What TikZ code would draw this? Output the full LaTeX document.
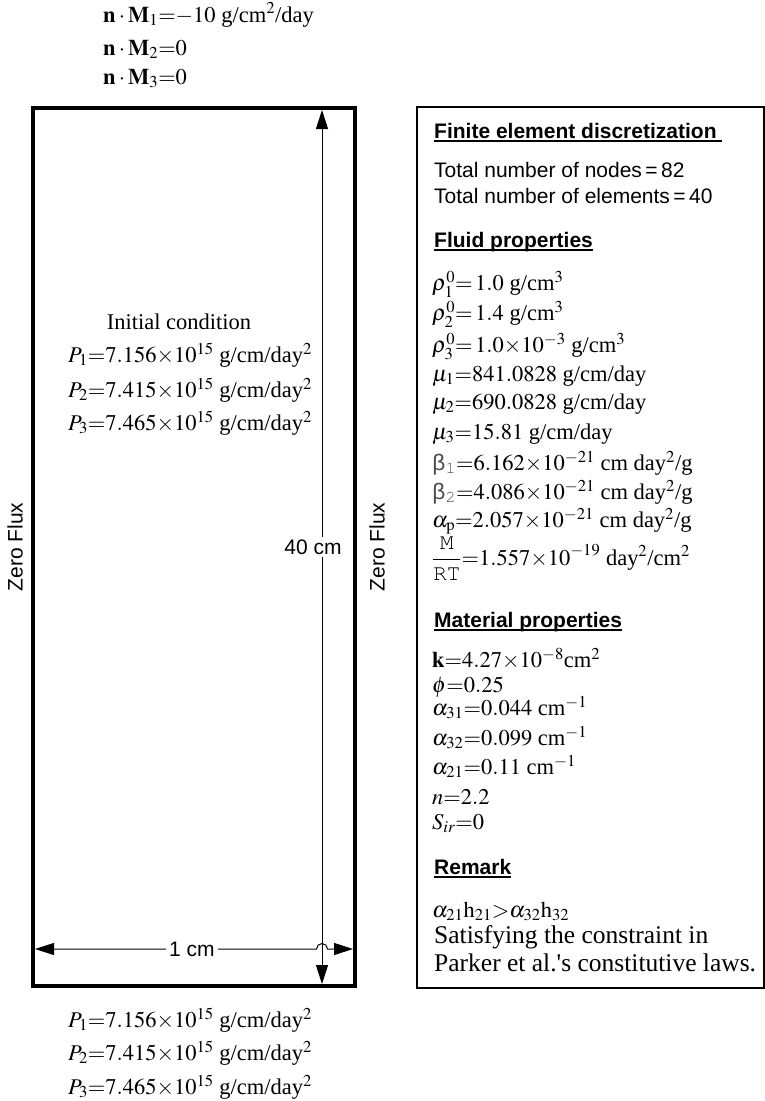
\documentclass[tikz,border=0pt]{standalone}
\usepackage{mathptmx}
\usepackage{fontspec}
\setmainfont{Liberation Serif}
\setsansfont{Liberation Sans}
\setmonofont{Liberation Mono}
\usetikzlibrary{arrows.meta}

\newcommand{\headrule}[1]{\setbox0\hbox{#1}\rlap{\rule[-4pt]{\wd0}{1.6pt}}\box0}
\newcommand{\courier}[1]{{\fontencoding{OT1}\fontfamily{pcr}\selectfont #1}}
\newcommand{\monobeta}[1]{{\color{black!70}\ttfamily β\textsubscript{\courier{#1}}}}

\begin{document}
\begin{tikzpicture}[x=1pt, y=-1pt,
    serif/.style={inner sep=0pt, anchor=base west, font=\fontsize{22.5}{27}\selectfont},
    remark/.style={serif, font=\fontsize{25.5}{28}\selectfont},
    sans/.style={inner sep=0pt, anchor=base west, font=\sffamily\fontsize{21}{25}\selectfont},
    heading/.style={sans, font=\sffamily\bfseries\fontsize{21}{25}\selectfont},
    dimline/.style={line width=1pt, >={Triangle[length=19pt, width=12pt]}, <->},
    dimlabel/.style={sans, anchor=center, fill=white, inner sep=3pt},
    fluxlabel/.style={sans, anchor=center, rotate=90},
    column/.style={line width=3.5pt},
    panel/.style={line width=1.3pt}]
    \useasboundingbox (0,0) rectangle (765,1101);

    \draw[column] (33,108) rectangle (355,986);
    \draw[panel] (417,107) rectangle (764,988);

    \coordinate (vtop) at (322,110);
    \coordinate (vbot) at (322,984);
    \coordinate (hleft) at (35,949);
    \coordinate (hjump) at (316.5,949);
    \coordinate (hright) at (353,949);
    \draw[dimline] (vtop) -- (vbot);
    \draw[dimline] (hleft) -- (hjump) arc[start angle=180, end angle=360, radius=5.5] -- (hright);
    \node[dimlabel] (height) at (313,547) {40 cm};
    \node[dimlabel] (width) at (192,949) {1 cm};
    \node[fluxlabel] (fluxleft) at (15,547) {Zero Flux};
    \node[fluxlabel] (fluxright) at (377,547) {Zero Flux};

    \foreach \y/\txt [count=\i] in {22/{$\mathbf{n}\cdot\mathbf{M}_1{=}{-}10$ g/cm$^2$/day},
        55/{$\mathbf{n}\cdot\mathbf{M}_2{=}0$}, 84/{$\mathbf{n}\cdot\mathbf{M}_3{=}0$}}
        \node[serif] (nm\i) at (103,\y) {\txt};

    \node[serif, anchor=base] (init) at (179,329.5) {Initial condition};
    \foreach \y/\v [count=\i] in {362.5/7.156, 397.5/7.415, 430.5/7.465}
        \node[serif] (ic\i) at (68,\y) {$P_{\i}{=}\v{\times}10^{15}$ g/cm/day$^2$};
    \foreach \y/\v [count=\i] in {1027.5/7.156, 1060.5/7.415, 1094.5/7.465}
        \node[serif] (pb\i) at (68,\y) {$P_{\i}{=}\v{\times}10^{15}$ g/cm/day$^2$};

    \node[heading] (fehead) at (434,138) {\headrule{Finite element discretization\ }};
    \node[sans] (nnodes) at (434,177.5) {Total number of nodes\,=\,82};
    \node[sans] (nelems) at (434,203.5) {Total number of elements\,=\,40};

    \node[heading] (fluidhead) at (434,247) {\headrule{Fluid properties}};
    \foreach \y/\txt [count=\i] in {
        290.5/{$\rho_1^0{=}\,1.0$ g/cm$^3$},
        320.5/{$\rho_2^0{=}\,1.4$ g/cm$^3$},
        352.5/{$\rho_3^0{=}\,1.0{\times}10^{-3}$ g/cm$^3$},
        381.5/{$\mu_1{=}841.0828$ g/cm/day},
        409.5/{$\mu_2{=}690.0828$ g/cm/day},
        439.5/{$\mu_3{=}15.81$ g/cm/day},
        470.5/{\monobeta{1}${=}6.162{\times}10^{-21}$ cm day$^2$/g},
        499.5/{\monobeta{2}${=}4.086{\times}10^{-21}$ cm day$^2$/g},
        527.5/{$\alpha_{\mathrm{p}}{=}2.057{\times}10^{-21}$ cm day$^2$/g},
        565/{$\displaystyle\frac{\hbox{\courier{M}}}{\hbox{\courier{RT}}}{=}1.557{\times}10^{-19}$ day$^2$/cm$^2$}}
        \node[serif] (fluid\i) at (432,\y) {\txt};

    \node[heading] (mathead) at (434,627) {\headrule{Material properties}};
    \foreach \y/\txt [count=\i] in {
        667.5/{$\mathbf{k}{=}4.27{\times}10^{-8}$cm$^2$},
        692.5/{$\phi{=}0.25$},
        715.5/{$\alpha_{31}{=}0.044$ cm$^{-1}$},
        745.5/{$\alpha_{32}{=}0.099$ cm$^{-1}$},
        774.5/{$\alpha_{21}{=}0.11$ cm$^{-1}$},
        804.5/{$n{=}2.2$},
        829.5/{$S_{ir}{=}0$}}
        \node[serif] (mat\i) at (432,\y) {\txt};

    \node[heading] (remhead) at (434,874) {\headrule{Remark}};
    \node[serif] (ineq) at (432,917.5) {$\alpha_{21}\mathrm{h}_{21}{>}\alpha_{32}\mathrm{h}_{32}$};
    \node[remark] (rem1) at (434,943.5) {Satisfying the constraint in};
    \node[remark] (rem2) at (434,971.5) {Parker et al.\textquotesingle s constitutive laws.};
\end{tikzpicture}
\end{document}
